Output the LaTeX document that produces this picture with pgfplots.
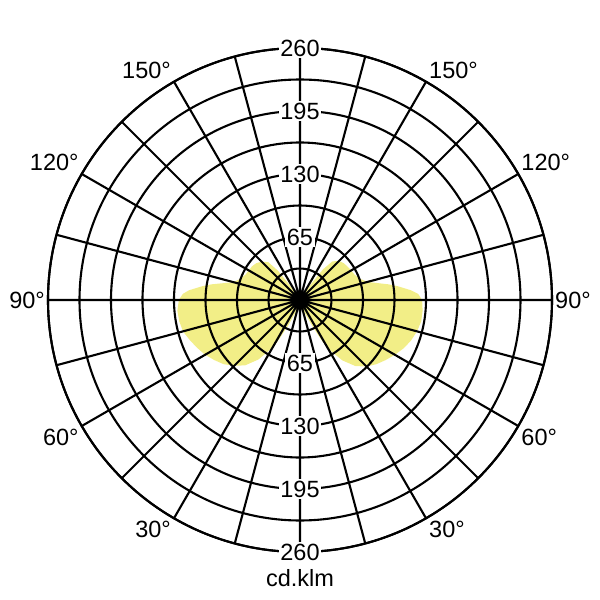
\documentclass[border=0pt]{standalone}
\usepackage{fontspec}
\setmainfont{Liberation Sans}
\usepackage{pgfplots}
\pgfplotsset{compat=1.18}
\usepgfplotslibrary{polar}
\definecolor{lobe}{RGB}{242,238,135}
\begin{document}
\fontsize{23.5}{28}\selectfont
\begin{tikzpicture}
\begin{polaraxis}[
  width=504pt, height=504pt, scale only axis,
  ymin=0, ymax=260,
  xtick={0,15,...,345},
  xticklabels={},
  ytick={32.5,65,97.5,130,162.5,195,227.5,260},
  yticklabels={},
  major tick length=0pt,
  grid=major,
  grid style={black, line width=2.1pt},
  major grid style={black, line width=2.1pt},
  axis line style={black, line width=2.1pt},
  axis on top,
]
\addplot[fill=lobe, draw=none] coordinates {
(-90,3) (-80,5) (-75,8) (-70,14) (-65,28) (-62,45) (-60,58) (-55,76) (-50,89) (-45,97)
(-40,103) (-35,108) (-30,113) (-25,118) (-20,122) (-15,125) (-10,127) (-5,127) (0,126)
(3,122) (5,115) (8,102) (10,93) (15,72) (20,65) (25,62) (30,61) (35,60) (40,59) (45,57) (50,52)
(53,40) (55,22) (58,8) (60,5) (75,3) (90,3)
(105,3) (120,5) (122,8) (125,20) (127,38) (130,51) (135,56) (140,59) (145,60.5) (150,61)
(155,62) (160,65) (165,71) (170,93) (172,102) (175,115) (177,121) (180,125) (185,127) (190,126.5) (195,125)
(200,121) (205,117) (210,113) (215,108) (220,103) (225,96) (230,88) (235,75) (240,57)
(242,45) (245,29) (250,14) (255,8) (260,5) (270,3)
} -- cycle;
\coordinate (c) at (axis cs:0,0);
\coordinate (t65) at (axis cs:90,65);
\coordinate (t130) at (axis cs:90,130);
\coordinate (t195) at (axis cs:90,195);
\coordinate (t260) at (axis cs:90,260);
\coordinate (b65) at (axis cs:270,65);
\coordinate (b130) at (axis cs:270,130);
\coordinate (b195) at (axis cs:270,195);
\coordinate (b260) at (axis cs:270,260);
\coordinate (a0) at (axis cs:0,260);
\coordinate (a30) at (axis cs:30,260);
\coordinate (a60) at (axis cs:60,260);
\coordinate (a120) at (axis cs:120,260);
\coordinate (a150) at (axis cs:150,260);
\coordinate (a180) at (axis cs:180,260);
\coordinate (a210) at (axis cs:210,260);
\coordinate (a240) at (axis cs:240,260);
\coordinate (a300) at (axis cs:300,260);
\coordinate (a330) at (axis cs:330,260);
\end{polaraxis}
\foreach \v in {65,130,195,260}{
  \node[fill=white, inner sep=1.5pt] at (t\v) {\v};
  \node[fill=white, inner sep=1.5pt] at (b\v) {\v};
}
\node at ([yshift=-26pt]b260) {cd.klm};
\node[anchor=west, inner sep=3pt] at (a0) {90°};
\node[anchor=south west, inner sep=3pt] at (a30) {120°};
\node[anchor=south west, inner sep=3pt] at (a60) {150°};
\node[anchor=south east, inner sep=3pt] at (a120) {150°};
\node[anchor=south east, inner sep=3pt] at (a150) {120°};
\node[anchor=east, inner sep=3pt] at (a180) {90°};
\node[anchor=north east, inner sep=3pt] at (a210) {60°};
\node[anchor=north east, inner sep=3pt] at (a240) {30°};
\node[anchor=north west, inner sep=3pt] at (a300) {30°};
\node[anchor=north west, inner sep=3pt] at (a330) {60°};
\pgfresetboundingbox
\path (c) ++(-300pt,-300pt) rectangle ++(600pt,600pt);
\end{tikzpicture}
\end{document}
